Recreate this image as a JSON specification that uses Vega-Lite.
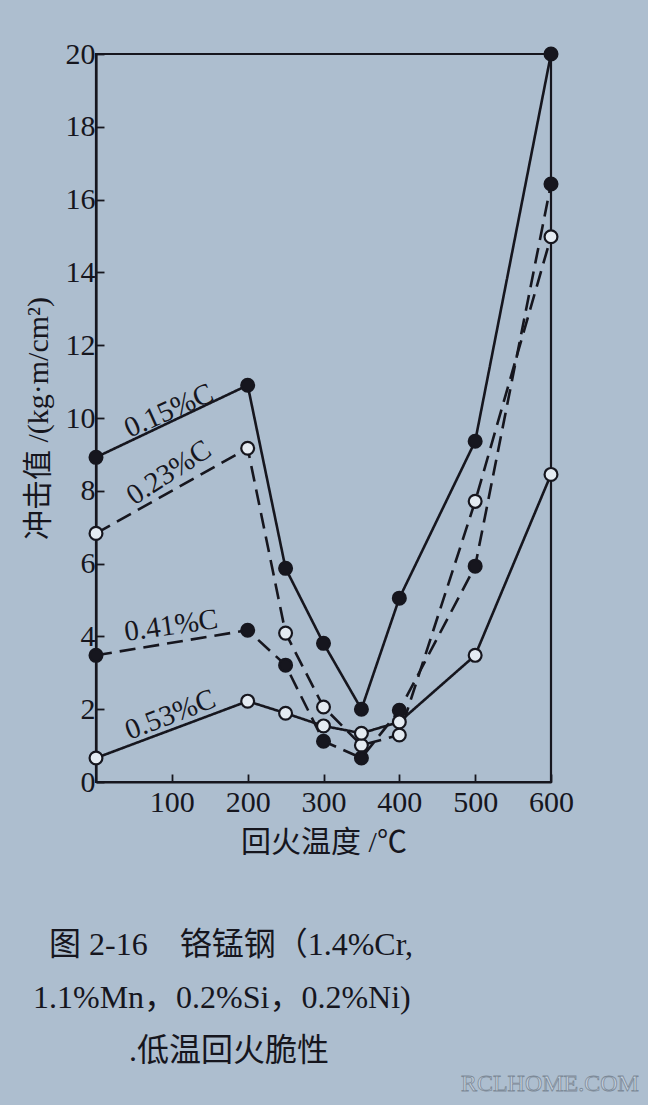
{
  "$schema": "https://vega.github.io/schema/vega-lite/v6.json",
  "width": 455,
  "height": 728,
  "autosize": {"type": "none"},
  "padding": {"left": 96, "top": 54, "right": 97, "bottom": 323},
  "background": "#adbecf",
  "view": {"stroke": "#16161e", "strokeWidth": 2.2, "fill": null},
  "config": {
    "font": "Liberation Serif, Noto Sans CJK SC",
    "axis": {
      "domainColor": "#16161e", "domainWidth": 2.2,
      "tickColor": "#16161e", "tickWidth": 1.8, "tickSize": -8,
      "labelColor": "#16161e", "labelFont": "Liberation Serif", "labelFontSize": 30, "labelFlush": false,
      "titleColor": "#16161e", "titleFont": "Liberation Serif, Noto Sans CJK SC", "titleFontSize": 30, "titleFontWeight": "normal",
      "grid": false
    }
  },
  "title": {
    "text": ["\u200b\u2002图 2-16\u3000铬锰钢（1.4%Cr,", "1.1%Mn，0.2%Si，0.2%Ni)", "\u200b\u3000\u3000\u3000.低温回火脆性"],
    "orient": "bottom", "anchor": "start", "frame": "group", "dx": -63, "offset": -166,
    "font": "Liberation Serif, Noto Sans CJK SC", "fontSize": 32, "fontWeight": "normal",
    "lineHeight": 53, "color": "#16161e"
  },
  "datasets": {
    "curves": [
      {"series": "0.15%C", "t": 0, "v": 8.92},
      {"series": "0.15%C", "t": 200, "v": 10.9},
      {"series": "0.15%C", "t": 250, "v": 5.87},
      {"series": "0.15%C", "t": 300, "v": 3.81},
      {"series": "0.15%C", "t": 350, "v": 2.0},
      {"series": "0.15%C", "t": 400, "v": 5.05},
      {"series": "0.15%C", "t": 500, "v": 9.36},
      {"series": "0.15%C", "t": 600, "v": 20.0},
      {"series": "0.23%C", "t": 0, "v": 6.83},
      {"series": "0.23%C", "t": 200, "v": 9.17},
      {"series": "0.23%C", "t": 250, "v": 4.09},
      {"series": "0.23%C", "t": 300, "v": 2.06},
      {"series": "0.23%C", "t": 350, "v": 1.01},
      {"series": "0.23%C", "t": 400, "v": 1.29},
      {"series": "0.23%C", "t": 500, "v": 7.71},
      {"series": "0.23%C", "t": 600, "v": 14.98},
      {"series": "0.41%C", "t": 0, "v": 3.48},
      {"series": "0.41%C", "t": 200, "v": 4.17},
      {"series": "0.41%C", "t": 250, "v": 3.21},
      {"series": "0.41%C", "t": 300, "v": 1.12},
      {"series": "0.41%C", "t": 350, "v": 0.66},
      {"series": "0.41%C", "t": 400, "v": 1.97},
      {"series": "0.41%C", "t": 500, "v": 5.93},
      {"series": "0.41%C", "t": 600, "v": 16.43},
      {"series": "0.53%C", "t": 0, "v": 0.66},
      {"series": "0.53%C", "t": 200, "v": 2.22},
      {"series": "0.53%C", "t": 250, "v": 1.89},
      {"series": "0.53%C", "t": 300, "v": 1.54},
      {"series": "0.53%C", "t": 350, "v": 1.34},
      {"series": "0.53%C", "t": 400, "v": 1.65},
      {"series": "0.53%C", "t": 500, "v": 3.48},
      {"series": "0.53%C", "t": 600, "v": 8.45}
    ],
    "labels": [
      {"label": "0.15%C", "t": 96, "v": 10.2},
      {"label": "0.23%C", "t": 96, "v": 8.5},
      {"label": "0.41%C", "t": 99, "v": 4.3},
      {"label": "0.53%C", "t": 98, "v": 1.85}
    ],
    "mark": [
      {"label": "RCLHOME.COM", "t": 716, "v": -8.3}
    ]
  },
  "encoding": {
    "x": {
      "field": "t", "type": "quantitative",
      "scale": {"domain": [0, 600], "nice": false, "zero": false},
      "axis": {"values": [100, 200, 300, 400, 500, 600], "labelPadding": 13, "title": "回火温度 /℃", "titlePadding": 10}
    },
    "y": {
      "field": "v", "type": "quantitative",
      "scale": {"domain": [0, 20], "nice": false, "zero": false},
      "axis": {"values": [0, 2, 4, 6, 8, 10, 12, 14, 16, 18, 20], "labelPadding": 9, "title": "冲击值 /(kg·m/cm²)", "titlePadding": 12}
    }
  },
  "layer": [
    {
      "data": {"name": "curves"},
      "mark": {"type": "line", "color": "#16161e", "strokeWidth": 2.6},
      "encoding": {
        "detail": {"field": "series"},
        "strokeDash": {
          "field": "series", "type": "nominal",
          "scale": {"domain": ["0.15%C", "0.23%C", "0.41%C", "0.53%C"], "range": [[1, 0], [16, 8], [16, 8], [1, 0]]},
          "legend": null
        }
      }
    },
    {
      "data": {"name": "curves"},
      "mark": {"type": "point", "shape": "circle", "filled": true, "stroke": "#16161e", "strokeWidth": 2.2, "size": 165, "opacity": 1},
      "encoding": {
        "fill": {
          "field": "series", "type": "nominal",
          "scale": {"domain": ["0.15%C", "0.23%C", "0.41%C", "0.53%C"], "range": ["#16161e", "#e4ebf2", "#16161e", "#e4ebf2"]},
          "legend": null
        }
      }
    },
    {
      "data": {"name": "labels"},
      "transform": [{"filter": "datum.label === '0.15%C'"}],
      "mark": {"type": "text", "angle": 336, "fontSize": 29, "font": "Liberation Serif", "color": "#16161e", "align": "center", "baseline": "middle"},
      "encoding": {"text": {"field": "label"}}
    },
    {
      "data": {"name": "labels"},
      "transform": [{"filter": "datum.label === '0.23%C'"}],
      "mark": {"type": "text", "angle": 327, "fontSize": 29, "font": "Liberation Serif", "color": "#16161e", "align": "center", "baseline": "middle"},
      "encoding": {"text": {"field": "label"}}
    },
    {
      "data": {"name": "labels"},
      "transform": [{"filter": "datum.label === '0.41%C'"}],
      "mark": {"type": "text", "angle": 352, "fontSize": 29, "font": "Liberation Serif", "color": "#16161e", "align": "center", "baseline": "middle"},
      "encoding": {"text": {"field": "label"}}
    },
    {
      "data": {"name": "labels"},
      "transform": [{"filter": "datum.label === '0.53%C'"}],
      "mark": {"type": "text", "angle": 339, "fontSize": 29, "font": "Liberation Serif", "color": "#16161e", "align": "center", "baseline": "middle"},
      "encoding": {"text": {"field": "label"}}
    },
    {
      "data": {"name": "mark"},
      "mark": {"type": "text", "fontSize": 24, "font": "Liberation Serif", "fill": "#c3cfdb", "stroke": "#7d8a98", "strokeWidth": 0.8, "align": "right", "baseline": "middle"},
      "encoding": {"text": {"field": "label"}}
    }
  ]
}
